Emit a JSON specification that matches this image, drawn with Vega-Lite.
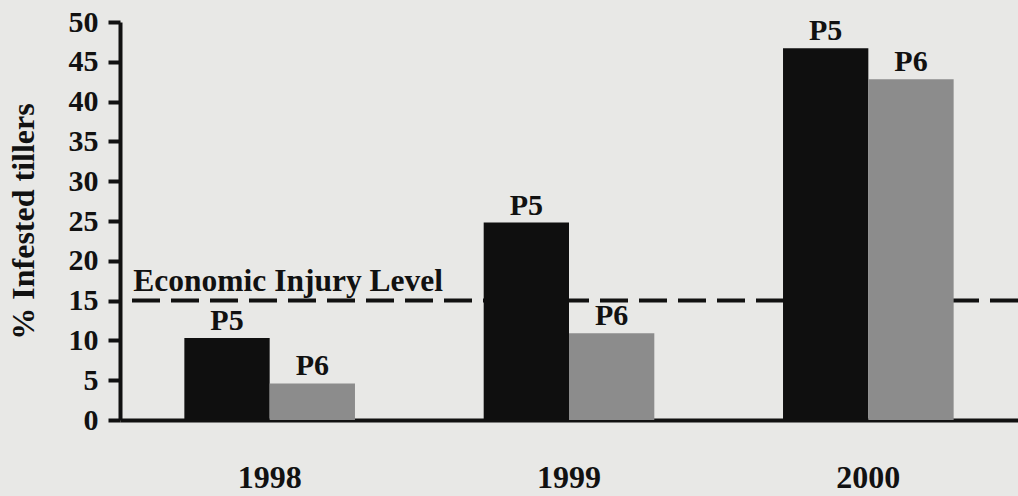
{
  "$schema": "https://vega.github.io/schema/vega-lite/v6.json",
  "width": 898,
  "height": 398,
  "autosize": {"type": "none"},
  "padding": {"left": 120, "top": 22, "right": 0, "bottom": 76},
  "background": "#e8e8e6",
  "config": {
    "view": {"stroke": null},
    "font": "Liberation Serif",
    "axis": {"grid": false, "domainColor": "#111", "domainWidth": 4, "tickColor": "#111", "tickWidth": 4, "labelColor": "#111", "titleColor": "#111", "labelFont": "Liberation Serif", "titleFont": "Liberation Serif", "labelFontWeight": "bold", "titleFontWeight": "bold", "labelFontSize": 30, "titleFontSize": 32}
  },
  "data": {
    "values": [
      {"year": "1998", "group": "P5", "value": 10.3},
      {"year": "1998", "group": "P6", "value": 4.6},
      {"year": "1999", "group": "P5", "value": 24.8},
      {"year": "1999", "group": "P6", "value": 10.9},
      {"year": "2000", "group": "P5", "value": 46.7},
      {"year": "2000", "group": "P6", "value": 42.8}
    ]
  },
  "encoding": {
    "x": {"field": "year", "type": "nominal", "scale": {"paddingInner": 0.43, "paddingOuter": 0.215}, "axis": {"title": null, "labelAngle": 0, "ticks": false, "labelPadding": 42, "labelFontSize": 32, "domainWidth": 4}},
    "y": {"field": "value", "type": "quantitative", "scale": {"domain": [0, 50]}, "axis": {"title": "% Infested tillers", "values": [0,5,10,15,20,25,30,35,40,45,50], "labelOverlap": false, "tickSize": 12, "labelPadding": 10, "titlePadding": 28}}
  },
  "layer": [
    {
      "mark": {"type": "rule", "strokeDash": [28, 11], "strokeWidth": 4, "color": "#111"},
      "data": {"values": [{"value": 15}]},
      "encoding": {"x": null}
    },
    {
      "mark": {"type": "text", "text": "Economic Injury Level", "align": "left", "baseline": "bottom", "dy": -3, "dx": -51, "fontSize": 31.5, "fontWeight": "bold", "color": "#111", "font": "Liberation Serif"},
      "data": {"values": [{"year": "1998", "value": 15}]},
      "encoding": {"x": {"field": "year", "type": "nominal", "bandPosition": 0}}
    },
    {
      "mark": {"type": "bar"},
      "encoding": {
        "xOffset": {"field": "group", "type": "nominal", "scale": {"paddingInner": 0, "paddingOuter": 0}},
        "color": {"field": "group", "type": "nominal", "scale": {"domain": ["P5", "P6"], "range": ["#0f0f0f", "#8c8c8c"]}, "legend": null}
      }
    },
    {
      "mark": {"type": "text", "baseline": "bottom", "dy": -2, "fontSize": 30, "fontWeight": "bold", "color": "#111", "font": "Liberation Serif"},
      "encoding": {
        "xOffset": {"field": "group", "type": "nominal"},
        "text": {"field": "group"}
      }
    }
  ]
}
